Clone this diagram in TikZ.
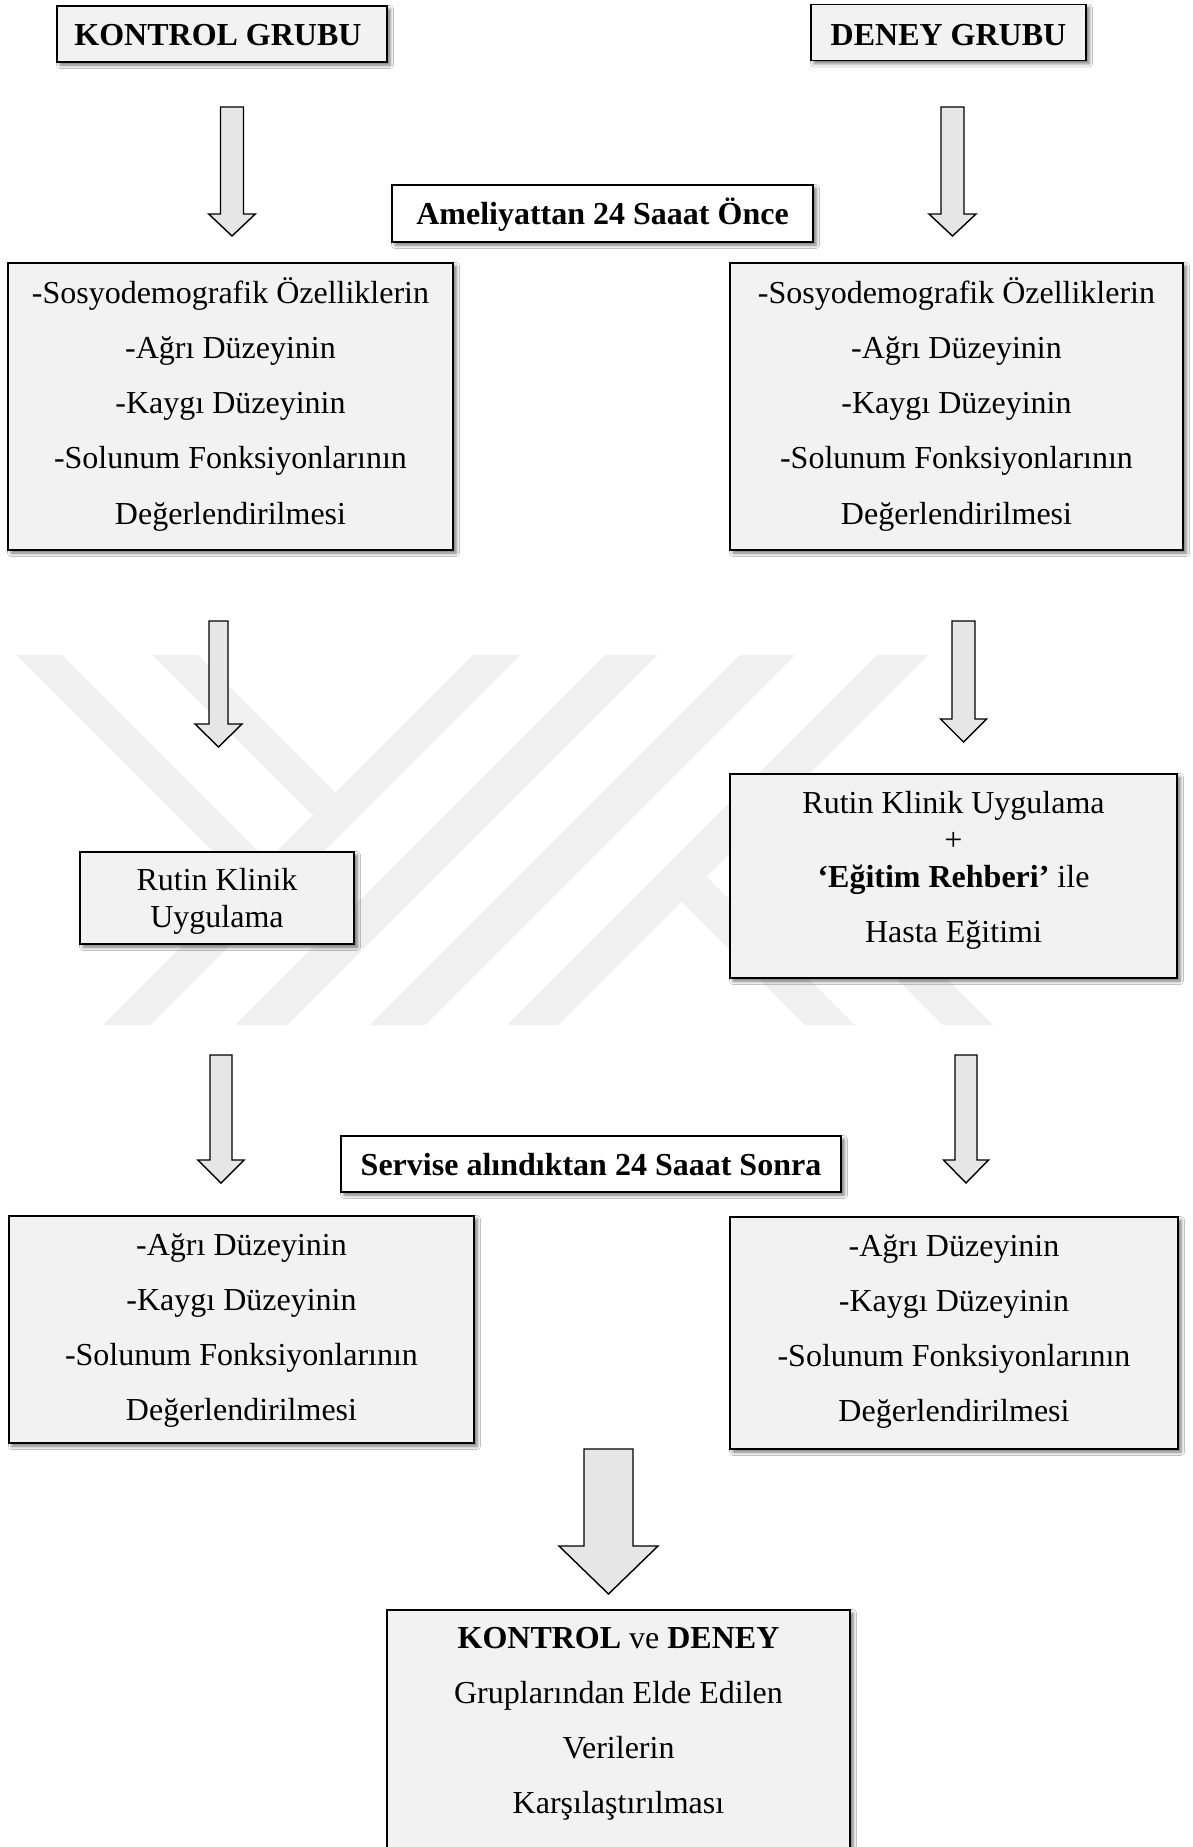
\documentclass[tikz,border=0pt]{standalone}
\usepackage{fontspec}
\setmainfont{Liberation Serif}
\usetikzlibrary{shadows.blur}
\definecolor{boxgray}{HTML}{F2F2F2}
\definecolor{arrowgray}{HTML}{E6E6E6}
\definecolor{wmgray}{HTML}{F0F0F0}
% box content: width, height, first-baseline drop, line spacing, text
\newcommand\bx[5]{\parbox[c][#2pt][t]{#1pt}{\centering\fontsize{32pt}{#4pt}\selectfont\rule{0pt}{#3pt}#5}}
% block arrow: centre x, top, head top, tip, shaft half width, head half width
\newcommand\blockarrow[6]{\draw[barrow] (#1-#5,#2) -- (#1+#5,#2) -- (#1+#5,#3) -- (#1+#6,#3) -- (#1,#4) -- (#1-#6,#3) -- (#1-#5,#3) -- cycle;}
\begin{document}
\begin{tikzpicture}[x=1pt,y=-1pt,
  box/.style={draw=black, line width=1.6pt, inner sep=0pt, outer sep=0pt,
    blur shadow={shadow xshift=3pt, shadow yshift=-3pt, shadow blur radius=3.5pt, shadow opacity=55}},
  graybox/.style={box, fill=boxgray},
  whitebox/.style={box, fill=white},
  barrow/.style={draw=black, line width=1.4pt, fill=arrowgray, line join=miter},
  wm/.style={fill=wmgray, draw=none}]
\useasboundingbox (0,0) rectangle (1192,1847);
\fill[white] (0,0) rectangle (1192,1847);

% watermark
\fill[wm] (17,655) -- (62,655) -- (267.5,860.5) -- (245,883) -- cycle;
\fill[wm] (153,655) -- (198,655) -- (335.5,792.5) -- (313,815) -- cycle;
\fill[wm] (473,655) -- (520,655) -- (150,1025) -- (103,1025) -- cycle;
\fill[wm] (605,655) -- (657,655) -- (287,1025) -- (235,1025) -- cycle;
\fill[wm] (740,655) -- (795,655) -- (425,1025) -- (370,1025) -- cycle;
\fill[wm] (877,655) -- (928,655) -- (558,1025) -- (507,1025) -- cycle;
\fill[wm] (706.5,876.5) -- (855,1025) -- (805,1025) -- (681.5,901.5) -- cycle;
\fill[wm] (775.5,807.5) -- (993,1025) -- (943,1025) -- (750.5,832.5) -- cycle;

% boxes
\node[graybox] (kg) at (222,34) {\bx{330}{56}{39.7}{40}{\textbf{KONTROL GRUBU}\hspace*{8pt}}};
\node[graybox] (dg) at (948.5,32.6) {\bx{275}{56}{41}{40}{\textbf{DENEY GRUBU}}};
\node[whitebox] (ame) at (602.5,213.5) {\bx{421}{57}{39}{40}{\textbf{Ameliyattan 24 Saaat Önce}}};

\node[graybox] (tl) at (230.5,406.5) {\bx{445}{287}{40}{55.3}{-Sosyodemografik Özelliklerin\\-Ağrı Düzeyinin\\-Kaygı Düzeyinin\\-Solunum Fonksiyonlarının\\Değerlendirilmesi}};
\node[graybox] (tr) at (956.5,406.5) {\bx{453}{287}{40}{55.3}{-Sosyodemografik Özelliklerin\\-Ağrı Düzeyinin\\-Kaygı Düzeyinin\\-Solunum Fonksiyonlarının\\Değerlendirilmesi}};

\node[graybox] (ml) at (217,898) {\bx{274}{92}{38}{37}{Rutin Klinik\\Uygulama}};
\node[graybox] (mr) at (953.5,876) {\bx{447}{204}{39}{37}{Rutin Klinik Uygulama\\+\\\textbf{‘Eğitim Rehberi’} ile\\[18pt]Hasta Eğitimi}};

\node[whitebox] (sv) at (591,1164) {\bx{500}{56}{39}{40}{\textbf{Servise alındıktan 24 Saaat Sonra}}};

\node[graybox] (bl) at (241.5,1329.5) {\bx{465}{227}{39}{55}{-Ağrı Düzeyinin\\-Kaygı Düzeyinin\\-Solunum Fonksiyonlarının\\Değerlendirilmesi}};
\node[graybox] (br) at (954,1333) {\bx{448}{232}{39}{55}{-Ağrı Düzeyinin\\-Kaygı Düzeyinin\\-Solunum Fonksiyonlarının\\Değerlendirilmesi}};

\node[graybox] (fin) at (618.5,1750) {\bx{463}{280}{38}{55}{\textbf{KONTROL} ve \textbf{DENEY}\\Gruplarından Elde Edilen\\Verilerin\\Karşılaştırılması}};

% block arrows
\blockarrow{232}{107}{214}{236}{11.5}{23.3}
\blockarrow{952.5}{107}{214}{236}{11.5}{23.5}
\blockarrow{218.5}{621}{724}{747}{9.5}{23.5}
\blockarrow{963.5}{621}{719}{742}{11.5}{23}
\blockarrow{221}{1055}{1160}{1183}{11}{23}
\blockarrow{966}{1055}{1160}{1183}{11}{22.5}
\blockarrow{608.5}{1449}{1546}{1594}{24.5}{49.5}
\end{tikzpicture}
\end{document}
